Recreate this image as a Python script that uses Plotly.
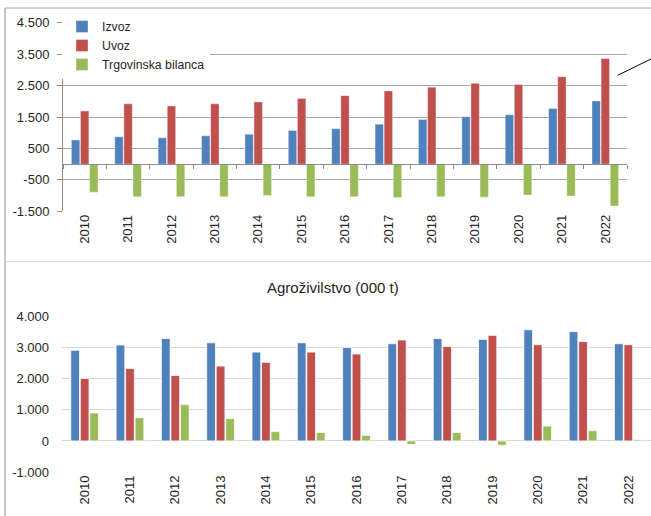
import plotly.graph_objects as go

W, H = 651, 516

years = [str(y) for y in range(2010, 2023)]
series_names = ["Izvoz", "Uvoz", "Trgovinska bilanca"]
colors = ["#4f81bd", "#c0504d", "#9bbb59"]

# Top chart
izvoz_top = [770, 870, 840, 900, 950, 1070, 1130, 1270, 1420, 1510, 1570, 1770, 2010]
uvoz_top = [1690, 1920, 1850, 1920, 1980, 2090, 2180, 2330, 2450, 2570, 2530, 2780, 3360]
bilanca_top = [-890, -1040, -1040, -1040, -1000, -1040, -1040, -1060, -1040, -1050, -980, -1010, -1330]
top_tickvals = [-1500, -500, 500, 1500, 2500, 3500, 4500]
top_ticktext = ["-1.500", "-500", "500", "1.500", "2.500", "3.500", "4.500"]
top_range = [-1500, 4500]

# Bottom chart: Agroživilstvo (000 t)
bottom_title = "Agroživilstvo (000 t)"
izvoz_bot = [2920, 3090, 3300, 3160, 2860, 3160, 3010, 3130, 3300, 3270, 3580, 3520, 3130]
uvoz_bot = [2010, 2330, 2110, 2410, 2530, 2860, 2800, 3250, 3040, 3400, 3100, 3200, 3100]
bilanca_bot = [900, 750, 1170, 720, 300, 270, 180, -110, 270, -140, 480, 330, 45]
bot_tickvals = [-1000, 0, 1000, 2000, 3000, 4000]
bot_ticktext = ["-1.000", "0", "1.000", "2.000", "3.000", "4.000"]
bot_range = [-1000, 4000]

xs = list(range(len(years)))
boundaries = [i - 0.5 for i in range(len(years) + 1)]

FONT = "Liberation Sans, Arial, sans-serif"
TXT = "#262626"

def px_x(p):
    return p / W

def px_y(p):
    return 1 - p / H

fig = go.Figure()

for name, col, vals in zip(series_names, colors, [izvoz_top, uvoz_top, bilanca_top]):
    fig.add_trace(go.Bar(x=xs, y=vals, name=name, marker=dict(color=col, line=dict(color="rgba(255,255,255,0.6)", width=0.6)),
                         xaxis="x", yaxis="y", legendgroup=name))

for name, col, vals in zip(series_names, colors, [izvoz_bot, uvoz_bot, bilanca_bot]):
    fig.add_trace(go.Bar(x=xs, y=vals, name=name, marker=dict(color=col, line=dict(color="rgba(255,255,255,0.8)", width=1)),
                         xaxis="x2", yaxis="y2", legendgroup=name, showlegend=False))

# invisible trace to carry the zero-crossing category axis of the top chart
fig.add_trace(go.Scatter(x=[boundaries[0], boundaries[-1]], y=[0, 0], mode="lines",
                         line=dict(color="rgba(0,0,0,0)"), xaxis="x3", yaxis="y",
                         showlegend=False, hoverinfo="skip"))

top_dom = [px_y(211.3), px_y(22.7)]
bot_dom = [px_y(472), px_y(316.7)]
zero_pos = top_dom[0] + (0 - top_range[0]) / (top_range[1] - top_range[0]) * (top_dom[1] - top_dom[0])

tickfont = dict(family=FONT, size=13, color=TXT)

fig.update_layout(
    width=W, height=H,
    margin=dict(l=0, r=0, t=0, b=0),
    paper_bgcolor="white", plot_bgcolor="white",
    barmode="group", bargap=0.37, bargroupgap=0.08,
    font=dict(family=FONT, color=TXT),
    xaxis=dict(domain=[px_x(63), px_x(627)], range=[-0.5, 12.5], tickvals=xs, ticktext=years,
               tickangle=-90, showgrid=False, showline=False, ticks="", zeroline=False,
               tickfont=tickfont, anchor="y", automargin=False),
    xaxis3=dict(overlaying="x", anchor="free", position=zero_pos, range=[-0.5, 12.5],
                tickvals=boundaries, showticklabels=False, ticks="outside", ticklen=4,
                tickcolor="#8c8c8c", showline=True, linecolor="#8c8c8c", linewidth=1,
                showgrid=False, zeroline=False),
    yaxis=dict(domain=top_dom, range=top_range, tickvals=top_tickvals, ticktext=top_ticktext,
               showgrid=True, gridcolor="#a6a6a6", gridwidth=1, showline=True, linecolor="#8c8c8c",
               ticks="outside", ticklen=5, tickcolor="#8c8c8c", zeroline=False,
               tickfont=tickfont, ticklabelstandoff=5, anchor="x", automargin=False),
    xaxis2=dict(domain=[px_x(62), px_x(651)], range=[-0.5, 12.5], tickvals=xs, ticktext=years,
                tickangle=-90, showgrid=False, showline=False, ticks="", zeroline=False,
                tickfont=tickfont, anchor="y2", automargin=False),
    yaxis2=dict(domain=bot_dom, range=bot_range, tickvals=bot_tickvals, ticktext=bot_ticktext,
                showgrid=True, gridcolor="#d9d9d9", gridwidth=1, showline=False, ticks="",
                zeroline=True, zerolinecolor="#d9d9d9", zerolinewidth=1,
                tickfont=tickfont, ticklabelstandoff=12, anchor="x2", automargin=False),
    legend=dict(x=px_x(62), y=px_y(12), xanchor="left", yanchor="top", bgcolor="white",
                font=dict(family=FONT, size=12.3, color=TXT), itemwidth=30,
                entrywidth=135, entrywidthmode="pixels",
                tracegroupgap=0, borderwidth=0),
    annotations=[dict(text=bottom_title, x=px_x(333), y=px_y(287), xref="paper", yref="paper",
                      xanchor="center", yanchor="middle", showarrow=False,
                      font=dict(family=FONT, size=15, color=TXT))],
    shapes=[
        dict(type="line", xref="paper", yref="paper", x0=px_x(5), x1=1, y0=px_y(8), y1=px_y(8),
             line=dict(color="#b0b0b0", width=1)),
        dict(type="line", xref="paper", yref="paper", x0=px_x(5), x1=px_x(5), y0=0, y1=px_y(8),
             line=dict(color="#8c8c8c", width=1)),
        dict(type="line", xref="paper", yref="paper", x0=px_x(5), x1=1, y0=px_y(261.7), y1=px_y(261.7),
             line=dict(color="#d9d9d9", width=1)),
        dict(type="line", xref="paper", yref="paper", x0=px_x(617.7), x1=1, y0=px_y(75.3), y1=px_y(59),
             line=dict(color="#000000", width=1)),
    ],
)

fig.write_html("out.html", config={"displayModeBar": False},
               post_script="document.body.style.margin='0';document.body.style.overflow='hidden';")
